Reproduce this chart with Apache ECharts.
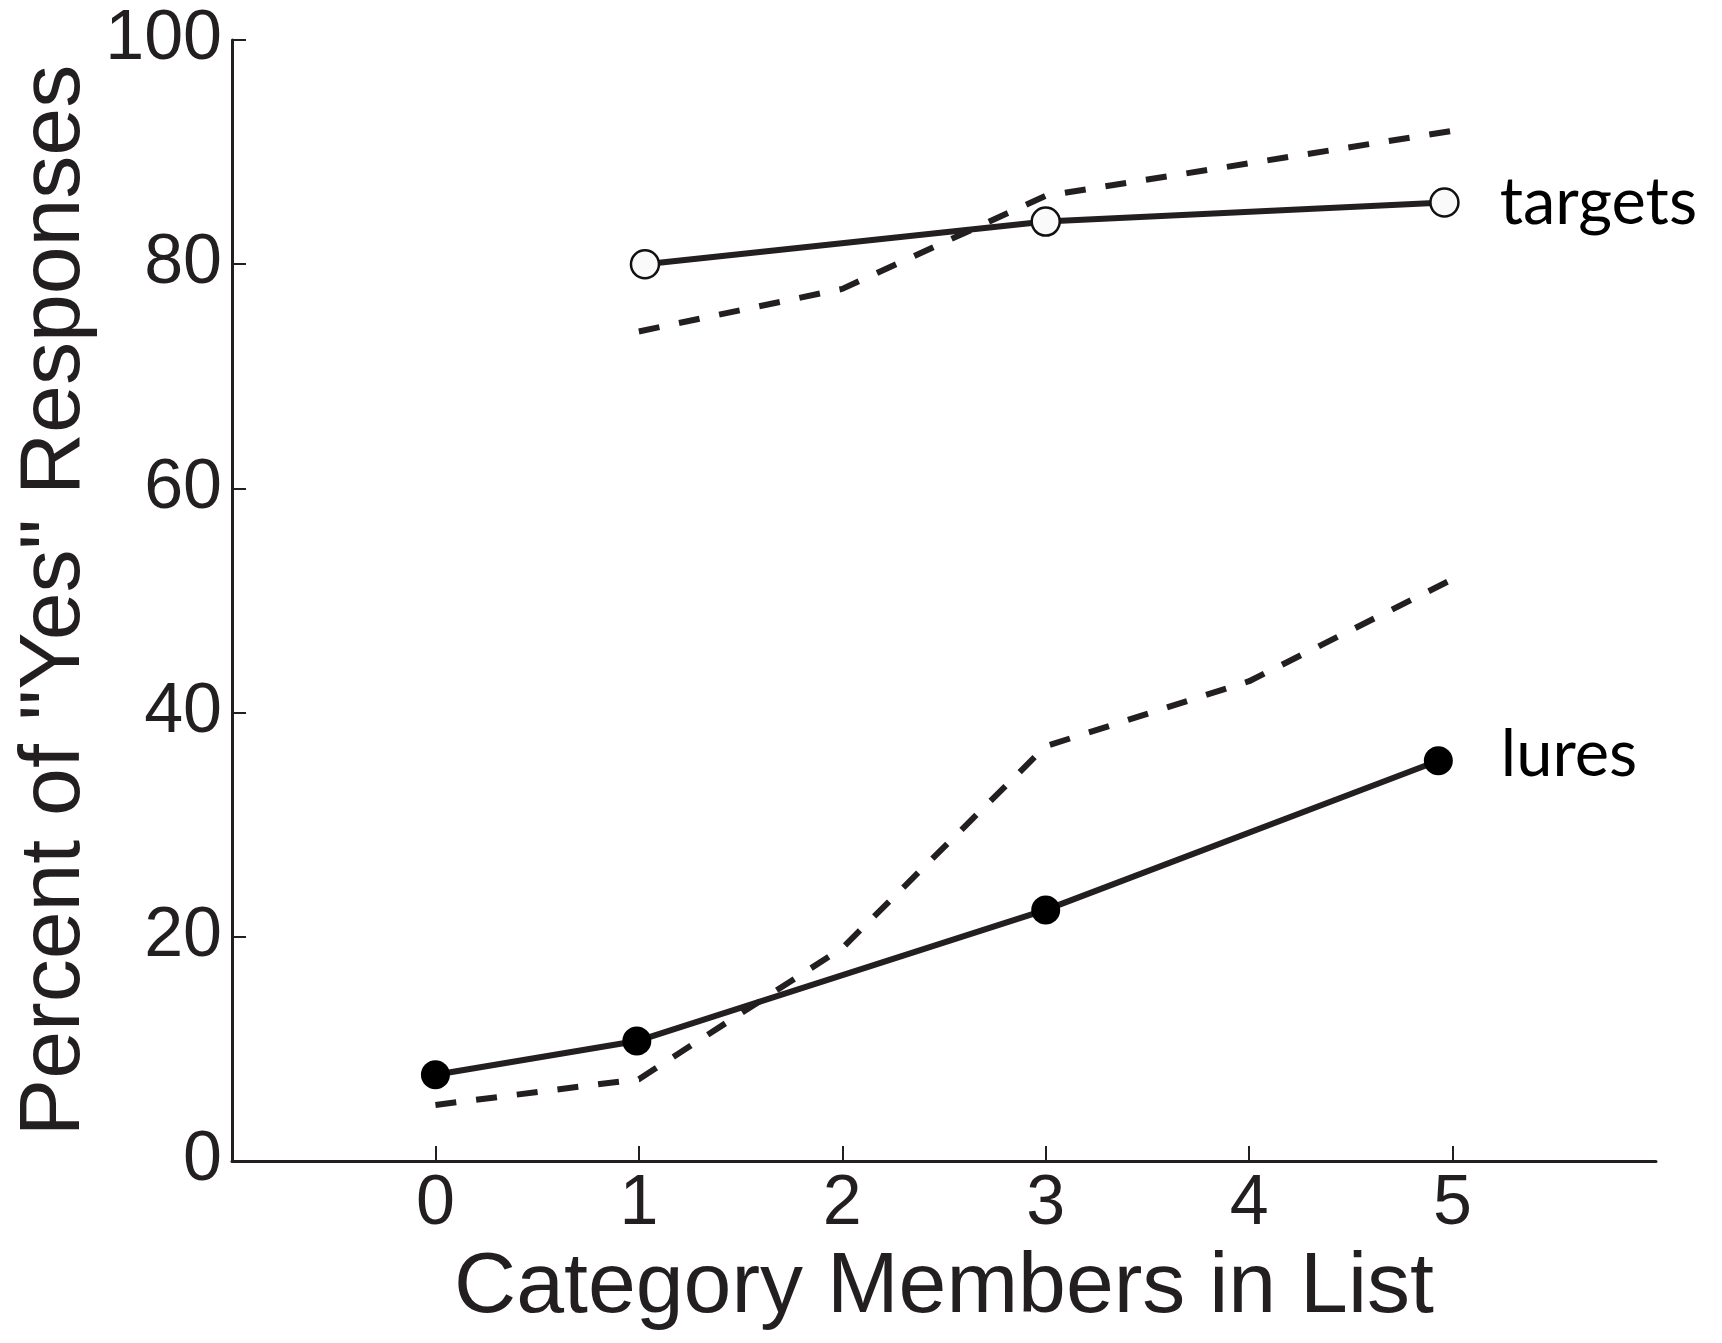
<!DOCTYPE html>
<html>
<head>
<meta charset="utf-8">
<script src="https://cdn.jsdelivr.net/npm/echarts@6/dist/echarts.min.js"></script>
<style>
html,body{margin:0;padding:0;background:#fff;}
#chart{width:1722px;height:1343px;}
</style>
</head>
<body>
<div id="chart"></div>
<script>
// Data
const xTicks = [0, 1, 2, 3, 4, 5];
const yTicks = [0, 20, 40, 60, 80, 100];

const targetsObsX = [1.03, 3.0, 4.96];
const targetsObsY = [80.0, 83.8, 85.5];

const luresObsX = [0, 0.99, 3.0, 4.93];
const luresObsY = [7.7, 10.7, 22.4, 35.7];

const targetsModelX = [1, 2, 3, 4, 5];
const targetsModelY = [74.0, 77.8, 86.1, 89.0, 91.9];

const luresModelX = [0, 1, 2, 3, 4, 5];
const luresModelY = [5.0, 7.3, 19.0, 37.0, 42.8, 51.9];

const xName = 'Category Members in List';
const yName = 'Percent of "Yes" Responses';
const targetsLabel = 'targets';
const luresLabel = 'lures';

const ink = '#231f20';
const sansFont = '"Liberation Sans", Arial, Helvetica, sans-serif';
const labelFont = 'Lato, "Noto Sans", sans-serif';

function pairs(xs, ys) { return xs.map((x, i) => [x, ys[i]]); }

function withEndLabel(xs, ys, text, dist, offY) {
  const d = pairs(xs, ys).map(p => ({ value: p }));
  d[d.length - 1].label = {
    show: true, position: 'right', distance: dist, formatter: text,
    fontFamily: labelFont, fontSize: 65, color: '#000', offset: [0, offY]
  };
  return d;
}

const chart = echarts.init(document.getElementById('chart'), null, { renderer: 'canvas' });
chart.setOption({
  animation: false,
  backgroundColor: '#ffffff',
  grid: { left: 232, top: 40, right: 66, bottom: 182, containLabel: false },
  xAxis: {
    type: 'value', min: -1, max: 6, interval: 1,
    name: xName, nameLocation: 'middle', nameGap: 80,
    nameTextStyle: { fontFamily: sansFont, fontSize: 86, color: ink },
    axisLine: { show: true, onZero: false, lineStyle: { color: ink, width: 3 } },
    axisTick: { show: true, inside: true, length: 15, customValues: xTicks, lineStyle: { color: ink, width: 2 } },
    axisLabel: { show: true, customValues: xTicks, margin: 9, fontFamily: sansFont, fontSize: 70, color: ink },
    splitLine: { show: false }
  },
  yAxis: {
    type: 'value', min: 0, max: 100, interval: 20,
    name: yName, nameLocation: 'middle', nameGap: 134, nameMoveOverlap: false,
    nameTextStyle: { fontFamily: sansFont, fontSize: 86, color: ink },
    axisLine: { show: true, onZero: false, lineStyle: { color: ink, width: 3 } },
    axisTick: { show: true, inside: true, length: 14, customValues: yTicks, lineStyle: { color: ink, width: 2 } },
    axisLabel: { show: true, customValues: yTicks, margin: 10, fontFamily: sansFont, fontSize: 70, color: ink },
    splitLine: { show: false }
  },
  series: [
    {
      type: 'line', name: 'targets model', data: pairs(targetsModelX, targetsModelY),
      showSymbol: false, symbol: 'none', z: 2,
      lineStyle: { color: ink, width: 6, type: [21, 20] }
    },
    {
      type: 'line', name: 'lures model', data: pairs(luresModelX, luresModelY),
      showSymbol: false, symbol: 'none', z: 2,
      lineStyle: { color: ink, width: 6, type: [21, 20] }
    },
    {
      type: 'line', name: 'targets', data: withEndLabel(targetsObsX, targetsObsY, targetsLabel, 40, 0),
      symbol: 'circle', symbolSize: 28, z: 3,
      lineStyle: { color: ink, width: 6 },
      itemStyle: { color: '#fafafa', borderColor: '#111', borderWidth: 2.5 }
    },
    {
      type: 'line', name: 'lures', data: withEndLabel(luresObsX, luresObsY, luresLabel, 48, -6),
      symbol: 'circle', symbolSize: 29, z: 3,
      lineStyle: { color: ink, width: 6 },
      itemStyle: { color: '#000', borderColor: '#000', borderWidth: 0 }
    }
  ]
});
</script>
</body>
</html>
